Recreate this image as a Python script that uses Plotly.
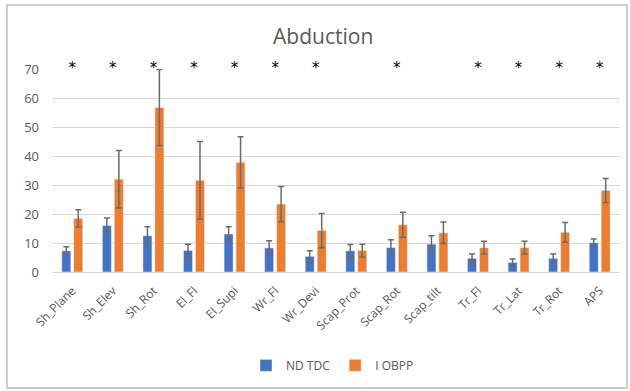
import plotly.graph_objects as go

categories = ["Sh_Plane", "Sh_Elev", "Sh_Rot", "El_Fl", "El_Supi", "Wr_Fl", "Wr_Devi",
              "Scap_Prot", "Scap_Rot", "Scap_tilt", "Tr_Fl", "Tr_Lat", "Tr_Rot", "APS"]
nd_tdc = [7.3, 16.0, 12.5, 7.4, 13.1, 8.3, 5.4, 7.3, 8.4, 9.6, 4.7, 3.3, 4.7, 10.1]
nd_tdc_err = [1.4, 2.6, 3.1, 2.2, 2.5, 2.5, 1.9, 2.2, 2.7, 2.9, 1.5, 1.2, 1.5, 1.3]
i_obpp = [18.5, 32.0, 56.7, 31.6, 37.8, 23.4, 14.3, 7.4, 16.3, 13.5, 8.4, 8.4, 13.7, 28.1]
i_obpp_err = [3.0, 9.9, 13.1, 13.4, 8.8, 6.1, 5.9, 2.2, 4.3, 3.7, 2.2, 2.2, 3.4, 4.1]
significant = ["Sh_Plane", "Sh_Elev", "Sh_Rot", "El_Fl", "El_Supi", "Wr_Fl", "Wr_Devi",
               "Scap_Rot", "Tr_Fl", "Tr_Lat", "Tr_Rot", "APS"]
star_level = [70] * len(significant)

GRAY = "#595959"
fig = go.Figure()
fig.add_trace(go.Bar(
    name="ND TDC", x=categories, y=nd_tdc, marker_color="#4472C4",
    error_y=dict(type="data", array=nd_tdc_err, color="#6b6b6b", thickness=1.5, width=3),
))
fig.add_trace(go.Bar(
    name="I OBPP", x=categories, y=i_obpp, marker_color="#ED7D31",
    error_y=dict(type="data", array=i_obpp_err, color="#6b6b6b", thickness=1.5, width=3),
))
fig.add_trace(go.Scatter(
    x=significant, y=star_level, mode="text", text=["*"] * len(significant),
    textposition="middle center", textfont=dict(size=15, color="black", family="DejaVu Sans"),
    showlegend=False, cliponaxis=False, hoverinfo="skip",
))

fig.update_layout(
    width=630, height=391,
    margin=dict(l=52, r=10, t=69, b=119, autoexpand=False),
    paper_bgcolor="white", plot_bgcolor="white",
    font=dict(family="Open Sans", color=GRAY, size=12),
    title=dict(text="Abduction", x=0.513, xanchor="center", y=1 - 37 / 391, yanchor="middle",
               font=dict(size=21, color=GRAY)),
    barmode="group", bargap=0.41, bargroupgap=0.25,
    legend=dict(orientation="h", x=(246 - 52) / 568, xanchor="left", y=-0.46, yanchor="middle",
                font=dict(size=12, color=GRAY), itemwidth=30),
    showlegend=True,
)
fig.update_yaxes(range=[0, 70], dtick=10, showgrid=True, gridcolor="#d9d9d9", gridwidth=1,
                 zeroline=False, showline=False, tickfont=dict(size=13, color=GRAY), ticks="",
                 automargin=False, ticklabelstandoff=12)
fig.update_xaxes(range=[-0.5, len(categories) - 0.5], tickangle=-45, showline=True,
                 linecolor="#d9d9d9", linewidth=1,
                 tickfont=dict(size=12, color=GRAY), ticks="", automargin=False,
                 ticklabelstandoff=6)

# chart border
fig.add_shape(type="rect", xref="paper", yref="paper",
              x0=(7 - 52) / 568, x1=(627 - 52) / 568,
              y0=(272 - 388) / 203, y1=(272 - 5) / 203,
              line=dict(color="#bfbfbf", width=1.5), fillcolor="rgba(0,0,0,0)", layer="below")

fig.write_html("out.html", config={"displayModeBar": False},
               post_script="document.body.style.margin='0';")
